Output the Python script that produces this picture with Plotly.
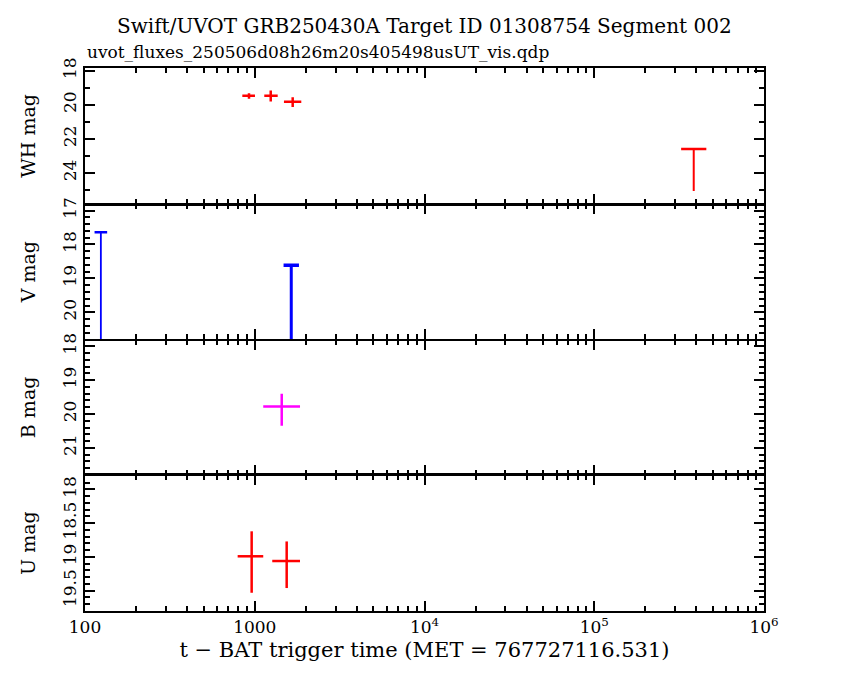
import plotly.graph_objects as go
from plotly.subplots import make_subplots

wh_t = [925, 1242, 1673]
wh_t_lo = [845, 1138, 1486]
wh_t_hi = [1003, 1365, 1880]
wh_mag = [19.47, 19.47, 19.82]
wh_mag_top = [19.32, 19.16, 19.55]
wh_mag_bot = [19.65, 19.81, 20.13]

# WH upper limit
wh_lim_t = [385500]
wh_lim_mag = [22.59]
wh_lim_end = [25.05]

# V upper limits (bars run off the bottom of the panel)
v_lim_t = [124, 1641]
v_lim_mag = [17.64, 18.61]
v_lim_end = [21.3, 21.3]

b_t = [1442]
b_t_lo = [1122]
b_t_hi = [1848]
b_mag = [19.78]
b_mag_top = [19.40]
b_mag_bot = [20.35]

u_t = [959, 1542]
u_t_lo = [793, 1268]
u_t_hi = [1122, 1848]
u_mag = [18.99, 19.06]
u_mag_top = [18.62, 18.77]
u_mag_bot = [19.53, 19.46]

x_tickvals = [100, 1000, 1e4, 1e5, 1e6]
x_ticktext = ["100", "1000", "10<sup>4</sup>", "10<sup>5</sup>", "10<sup>6</sup>"]

FONT = "DejaVu Serif"
RED = "#ff0000"
BLUE = "#0000ff"
MAGENTA = "#ff00ff"


def add_points(fig, row, t, t_lo, t_hi, mag, top, bot, color, width=2.5):
    fig.add_trace(go.Scatter(
        x=t, y=mag, mode="markers",
        marker=dict(size=1, color=color),
        error_x=dict(type="data", symmetric=False,
                     array=[h - c for h, c in zip(t_hi, t)],
                     arrayminus=[c - l for l, c in zip(t_lo, t)],
                     color=color, thickness=width, width=0),
        error_y=dict(type="data", symmetric=False,
                     array=[b - m for b, m in zip(bot, mag)],
                     arrayminus=[m - tp for tp, m in zip(top, mag)],
                     color=color, thickness=width, width=0),
        showlegend=False, hoverinfo="skip"), row=row, col=1)


def add_limits(fig, row, t, mag, end, color, width, cap):
    xs, ys = [], []
    for ti, mi, ei in zip(t, mag, end):
        xs += [ti, ti, None]
        ys += [mi, ei, None]
    fig.add_trace(go.Scatter(
        x=xs, y=ys, mode="lines", line=dict(color=color, width=width),
        showlegend=False, hoverinfo="skip"), row=row, col=1)
    fig.add_trace(go.Scatter(
        x=t, y=mag, mode="markers",
        marker=dict(symbol="line-ew", size=cap,
                    line=dict(color=color, width=width + 0.5)),
        showlegend=False, hoverinfo="skip"), row=row, col=1)


fig = make_subplots(rows=4, cols=1, shared_xaxes=True, vertical_spacing=0)

add_points(fig, 1, wh_t, wh_t_lo, wh_t_hi, wh_mag, wh_mag_top, wh_mag_bot, RED)
add_limits(fig, 1, wh_lim_t, wh_lim_mag, wh_lim_end, RED, 2, 18)
add_limits(fig, 2, v_lim_t[:1], v_lim_mag[:1], v_lim_end[:1], BLUE, 1.8, 9)
add_limits(fig, 2, v_lim_t[1:], v_lim_mag[1:], v_lim_end[1:], BLUE, 3, 11)
add_points(fig, 3, b_t, b_t_lo, b_t_hi, b_mag, b_mag_top, b_mag_bot, MAGENTA)
add_points(fig, 4, u_t, u_t_lo, u_t_hi, u_mag, u_mag_top, u_mag_bot, RED)

for r in range(1, 5):
    fig.update_xaxes(
        type="log", range=[2, 6],
        tickmode="array", tickvals=x_tickvals, ticktext=x_ticktext,
        ticks="inside", ticklen=10, tickwidth=2, tickcolor="black",
        minor=dict(dtick="D1", ticks="inside",
                   ticklen=5, tickwidth=1.5, tickcolor="black"),
        showline=True, linewidth=1.2, linecolor="black", mirror="ticks",
        showgrid=False, zeroline=False, automargin=False,
        tickfont=dict(family=FONT, size=17, color="black"),
        row=r, col=1)

y_specs = [
    ("WH mag", [25.8, 17.84], 18, 2, 1),
    ("V mag", [20.8, 16.8], 17, 1, 0.2),
    ("B mag", [21.81, 17.8], 18, 1, 0.2),
    ("U mag", [19.8, 17.79], 18, 0.5, 0.1),
]
for r, (label, rng, t0, dt, mdt) in enumerate(y_specs, start=1):
    fig.update_yaxes(
        range=rng, tick0=t0, dtick=dt, tickangle=-90,
        ticks="inside", ticklen=10, tickwidth=2, tickcolor="black",
        minor=dict(tick0=t0, dtick=mdt, ticks="inside", ticklen=5,
                   tickwidth=1.5, tickcolor="black"),
        showline=True, linewidth=2, linecolor="black", mirror="ticks",
        showgrid=False, zeroline=False, automargin=False,
        tickfont=dict(family=FONT, size=17, color="black"),
        title=dict(text=label, standoff=20,
                   font=dict(family=FONT, size=19, color="black")),
        row=r, col=1)

fig.update_xaxes(
    title=dict(text="t \u2212 BAT trigger time (MET = 767727116.531)", standoff=6,
               font=dict(family=FONT, size=21, color="black")),
    row=4, col=1)
fig.update_xaxes(linewidth=2, row=4, col=1)
fig.update_xaxes(linewidth=2, row=1, col=1)

fig.add_annotation(
    text="Swift/UVOT GRB250430A Target ID 01308754 Segment 002",
    xref="paper", yref="paper", x=0.5, y=1.0, yshift=28,
    xanchor="center", yanchor="bottom", showarrow=False,
    font=dict(family=FONT, size=20, color="black"))
fig.add_annotation(
    text="uvot_fluxes_250506d08h26m20s405498usUT_vis.qdp",
    xref="paper", yref="paper", x=0.0, y=1.0, yshift=4,
    xanchor="left", yanchor="bottom", showarrow=False,
    font=dict(family=FONT, size=17, color="black"))

# page body adds ~8px offset, so margins are shifted to land the axes on the reference
fig.update_layout(
    width=850, height=680,
    margin=dict(l=77, r=94, t=60, b=77),
    paper_bgcolor="white", plot_bgcolor="white",
    showlegend=False,
)

fig.write_html("out.html")
